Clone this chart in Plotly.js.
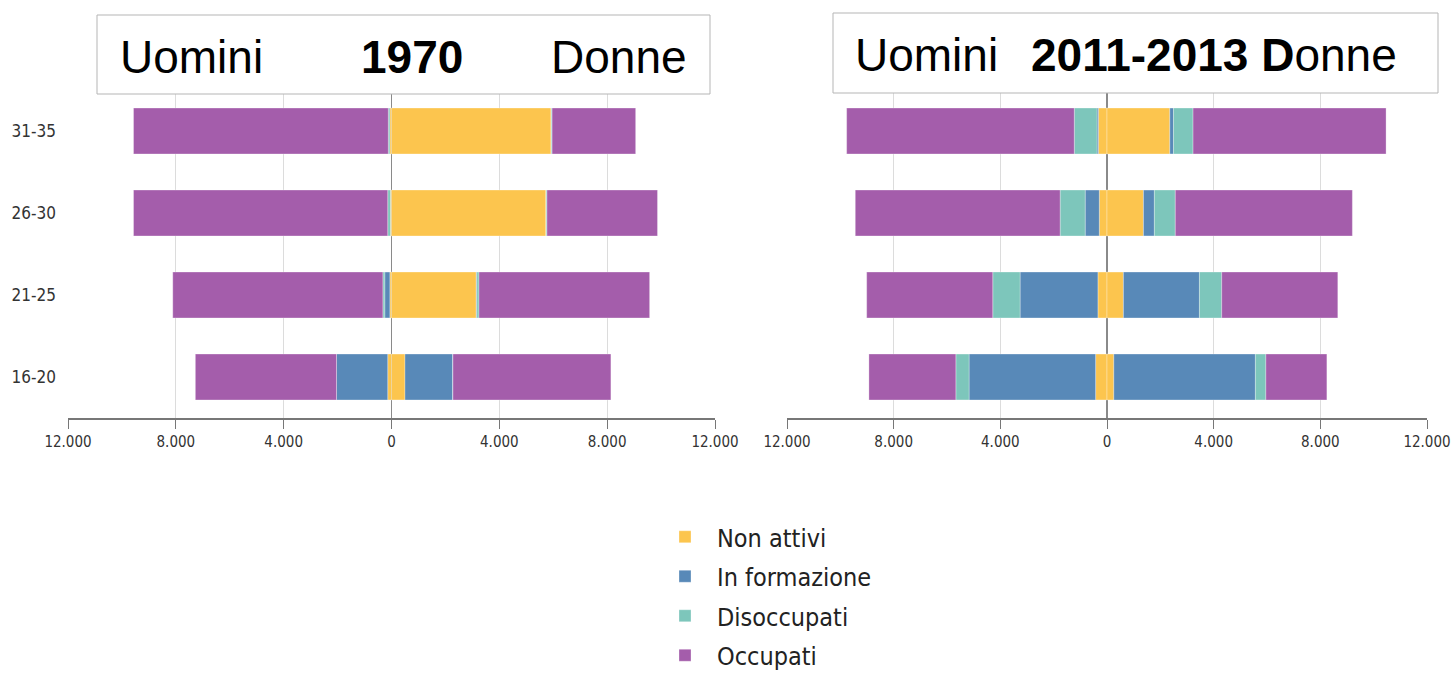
<!DOCTYPE html>
<html>
<head>
<meta charset="utf-8">
<script src="https://cdn.plot.ly/plotly-3.0.1.min.js"></script>
<style>html,body{margin:0;padding:0;background:#fff;}#chart{width:1454px;height:676px;}</style>
</head>
<body>
<div id="chart"></div>
<script>
// Age classes (bottom to top)
const ageClasses = ['16-20', '21-25', '26-30', '31-35'];
const seriesNames = ['Non attivi', 'In formazione', 'Disoccupati', 'Occupati'];
const seriesColors = ['#FCC54E', '#5889B8', '#7DC6BB', '#A45DAB'];

// 1970 - Uomini (men)
const men1970_nonAttivi    = [140, 60, 40, 60];
const men1970_formazione   = [1900, 190, 0, 0];
const men1970_disoccupati  = [0, 70, 100, 60];
const men1970_occupati     = [5236, 7794, 9430, 9450];
// 1970 - Donne (women)
const women1970_nonAttivi   = [500, 3145, 5737, 5927];
const women1970_formazione  = [1780, 20, 0, 0];
const women1970_disoccupati = [0, 80, 30, 30];
const women1970_occupati    = [5858, 6330, 4100, 3100];

// 2011-2013 - Uomini (men)
const men2013_nonAttivi    = [427, 341, 290, 324];
const men2013_formazione   = [4746, 2919, 529, 50];
const men2013_disoccupati  = [495, 1024, 939, 854];
const men2013_occupati     = [3260, 4728, 7682, 8535];
// 2011-2013 - Donne (women)
const women2013_nonAttivi   = [256, 615, 1366, 2356];
const women2013_formazione  = [5309, 2851, 410, 137];
const women2013_disoccupati = [393, 836, 785, 734];
const women2013_occupati    = [2287, 4353, 6640, 7238];

// Axis ticks
const tickValues = [-12000, -8000, -4000, 0, 4000, 8000, 12000];
const tickLabels = ['12.000', '8.000', '4.000', '0', '4.000', '8.000', '12.000'];

const W = 1454, H = 676;
const px = v => v / W;
const py = v => 1 - v / H;

const neg = arr => arr.map(v => -v);

function panelTraces(men, women, xa, ya, showLegend) {
  const traces = [];
  for (let i = 0; i < 4; i++) {
    traces.push({
      type: 'bar', orientation: 'h', y: ageClasses, x: neg(men[i]),
      name: seriesNames[i], legendgroup: seriesNames[i], showlegend: showLegend,
      marker: {color: seriesColors[i], line: {color: 'rgba(255,255,255,0.5)', width: 0.6}},
      xaxis: xa, yaxis: ya, hoverinfo: 'skip'
    });
    traces.push({
      type: 'bar', orientation: 'h', y: ageClasses, x: women[i],
      name: seriesNames[i], legendgroup: seriesNames[i], showlegend: false,
      marker: {color: seriesColors[i], line: {color: 'rgba(255,255,255,0.5)', width: 0.6}},
      xaxis: xa, yaxis: ya, hoverinfo: 'skip'
    });
  }
  return traces;
}

const data = [].concat(
  panelTraces([men1970_nonAttivi, men1970_formazione, men1970_disoccupati, men1970_occupati],
              [women1970_nonAttivi, women1970_formazione, women1970_disoccupati, women1970_occupati],
              'x', 'y', true),
  panelTraces([men2013_nonAttivi, men2013_formazione, men2013_disoccupati, men2013_occupati],
              [women2013_nonAttivi, women2013_formazione, women2013_disoccupati, women2013_occupati],
              'x2', 'y2', false)
);

const condensed = '"DejaVu Sans Condensed", "Liberation Sans Narrow", sans-serif';

function xAxis(domain, anchor) {
  return {
    domain: domain, anchor: anchor, range: [-12000, 12000], fixedrange: true,
    tickmode: 'array', tickvals: tickValues, ticktext: tickLabels,
    showgrid: true, gridcolor: '#dcdcdc', gridwidth: 1,
    zeroline: true, zerolinecolor: '#8a8a8a', zerolinewidth: 1.5,
    showline: true, linecolor: '#777', linewidth: 1.5,
    ticks: 'outside', ticklen: 9, tickcolor: '#777', tickwidth: 1,
    tickfont: {family: condensed, size: 15, color: '#333'}
  };
}

const yDomain = [py(418), py(90)];

const layout = {
  width: W, height: H,
  margin: {l: 0, r: 0, t: 0, b: 0, autoexpand: false},
  paper_bgcolor: '#fff', plot_bgcolor: '#fff',
  barmode: 'relative', bargap: 0.44,
  showlegend: true,
  legend: {
    x: px(653), y: py(514), xanchor: 'left', yanchor: 'top',
    traceorder: 'grouped', orientation: 'v', itemwidth: 54,
    font: {family: condensed, size: 25, color: '#222'},
    itemclick: false, itemdoubleclick: false, tracegroupgap: 4
  },
  xaxis: xAxis([px(68), px(715)], 'y'),
  yaxis: {domain: yDomain, anchor: 'x', type: 'category', categoryorder: 'array', categoryarray: ageClasses,
          showgrid: false, zeroline: false, showline: false, ticks: '', fixedrange: true,
          tickfont: {family: condensed, size: 17, color: '#333'}, ticklabelstandoff: 11},
  xaxis2: xAxis([px(787), px(1427)], 'y2'),
  yaxis2: {domain: yDomain, anchor: 'x2', type: 'category', categoryorder: 'array', categoryarray: ageClasses,
           showgrid: false, zeroline: false, showline: false, ticks: '', showticklabels: false, fixedrange: true},
  shapes: [
    {type: 'rect', xref: 'paper', yref: 'paper', x0: px(97), x1: px(710), y0: py(94), y1: py(15),
     line: {color: '#b5b5b5', width: 1}, fillcolor: '#fff', layer: 'above'},
    {type: 'rect', xref: 'paper', yref: 'paper', x0: px(833), x1: px(1438), y0: py(93), y1: py(13),
     line: {color: '#b5b5b5', width: 1}, fillcolor: '#fff', layer: 'above'}
  ],
  annotations: [
    {xref: 'paper', yref: 'paper', x: px(118), y: py(57), xanchor: 'left', yanchor: 'middle', showarrow: false,
     text: 'Uomini', font: {family: '"Liberation Sans", Arial, sans-serif', size: 46, color: '#000'}},
    {xref: 'paper', yref: 'paper', x: px(412), y: py(57), xanchor: 'center', yanchor: 'middle', showarrow: false,
     text: '<b>1970</b>', font: {family: '"Liberation Sans", Arial, sans-serif', size: 46, color: '#000'}},
    {xref: 'paper', yref: 'paper', x: px(689), y: py(57), xanchor: 'right', yanchor: 'middle', showarrow: false,
     text: 'Donne', font: {family: '"Liberation Sans", Arial, sans-serif', size: 46, color: '#000'}},
    {xref: 'paper', yref: 'paper', x: px(853), y: py(55), xanchor: 'left', yanchor: 'middle', showarrow: false,
     text: 'Uomini', font: {family: '"Liberation Sans", Arial, sans-serif', size: 46, color: '#000'}},
    {xref: 'paper', yref: 'paper', x: px(1029), y: py(55), xanchor: 'left', yanchor: 'middle', showarrow: false,
     text: '<b>2011-2013 D</b>onne', font: {family: '"Liberation Sans", Arial, sans-serif', size: 46, color: '#000'}}
  ]
};

Plotly.newPlot('chart', data, layout, {displayModeBar: false, staticPlot: true});
</script>
</body>
</html>
